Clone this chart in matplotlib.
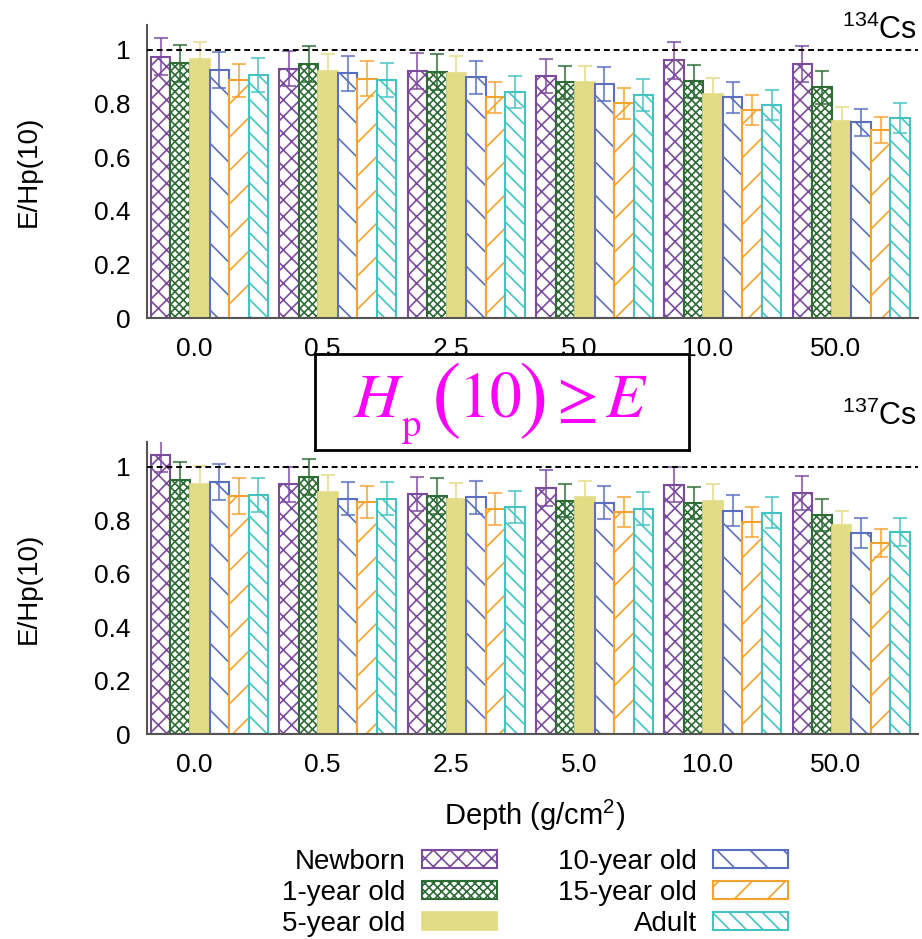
import numpy as np
import matplotlib
matplotlib.use('Agg')
import matplotlib.pyplot as plt

plt.rcParams['font.family'] = ['Liberation Sans', 'DejaVu Sans']
plt.rcParams['hatch.linewidth'] = 1.2

## DATA
depths = ['0.0', '0.5', '2.5', '5.0', '10.0', '50.0']
ages = ['Newborn', '1-year old', '5-year old', '10-year old', '15-year old', 'Adult']

# 134Cs, E/Hp(10) per depth
cs134_newborn = [0.975, 0.930, 0.922, 0.902, 0.961, 0.948]
cs134_1y = [0.950, 0.948, 0.918, 0.879, 0.883, 0.860]
cs134_5y = [0.965, 0.920, 0.913, 0.881, 0.837, 0.735]
cs134_10y = [0.925, 0.913, 0.898, 0.873, 0.823, 0.730]
cs134_15y = [0.887, 0.892, 0.823, 0.801, 0.776, 0.701]
cs134_adult = [0.907, 0.889, 0.844, 0.832, 0.795, 0.746]
cs134_err = [
    [0.070, 0.066, 0.067, 0.063, 0.069, 0.068],
    [0.070, 0.067, 0.067, 0.062, 0.062, 0.060],
    [0.065, 0.064, 0.065, 0.060, 0.059, 0.051],
    [0.066, 0.066, 0.062, 0.062, 0.058, 0.051],
    [0.062, 0.065, 0.058, 0.058, 0.055, 0.050],
    [0.063, 0.064, 0.060, 0.059, 0.057, 0.055],
]

# 137Cs
cs137_newborn = [1.046, 0.934, 0.898, 0.921, 0.933, 0.903]
cs137_1y = [0.949, 0.963, 0.891, 0.874, 0.865, 0.819]
cs137_5y = [0.936, 0.906, 0.879, 0.886, 0.874, 0.781]
cs137_10y = [0.943, 0.881, 0.886, 0.866, 0.836, 0.754]
cs137_15y = [0.891, 0.868, 0.842, 0.830, 0.795, 0.716]
cs137_adult = [0.895, 0.881, 0.848, 0.843, 0.829, 0.757]
cs137_err = [
    [0.065, 0.067, 0.063, 0.067, 0.065, 0.064],
    [0.068, 0.067, 0.066, 0.062, 0.060, 0.059],
    [0.067, 0.065, 0.062, 0.062, 0.062, 0.055],
    [0.068, 0.063, 0.062, 0.062, 0.059, 0.056],
    [0.066, 0.061, 0.060, 0.056, 0.056, 0.052],
    [0.063, 0.063, 0.060, 0.061, 0.057, 0.053],
]

colors = ['#7b4c9e', '#2e6b35', '#e3dc86', '#5b6fbf', '#f5a32e', '#45c3c3']
hatches = ['xx', 'xxxx', None, '\\', '/', '\\\\']

W, H = 922, 939
fig = plt.figure(figsize=(W / 100, H / 100), dpi=100)


def panel(rect, series, errs, nuclide, label_y):
    ax = fig.add_axes(rect)
    x = np.arange(len(depths))
    w = 0.152
    bars = []
    for j, vals in enumerate(series):
        xs = x + (j - 2.5) * w
        if hatches[j] is None:
            b = ax.bar(xs, vals, w, color=colors[j], edgecolor=colors[j],
                       linewidth=1.2, label=ages[j])
        else:
            b = ax.bar(xs, vals, w, facecolor='white', edgecolor=colors[j],
                       hatch=hatches[j], linewidth=1.5, label=ages[j])
        bars.append(b)
        ax.errorbar(xs, vals, yerr=errs[j], fmt='none', ecolor=colors[j],
                    elinewidth=1.5, capsize=5, capthick=1.5, alpha=0.75)
    ax.axhline(1.0, color='black', lw=1.4, ls=(0, (3, 2)), zorder=5)
    ax.set_xlim(-0.487, 5.52)
    ax.set_ylim(0, 1.093)
    ax.set_yticks([0, 0.2, 0.4, 0.6, 0.8, 1])
    ax.set_yticklabels(['0', '0.2', '0.4', '0.6', '0.8', '1'])
    ax.set_xticks(x - 0.12)
    ax.set_xticklabels(depths)
    ax.tick_params(length=0, labelsize=19)
    ax.tick_params(axis='x', pad=14)
    ax.tick_params(axis='y', pad=12)
    for s in ['top', 'right']:
        ax.spines[s].set_visible(False)
    for s in ['left', 'bottom']:
        ax.spines[s].set_color('#555555')
        ax.spines[s].set_linewidth(1.5)
    ax.set_ylabel('E/Hp(10)', fontsize=20)
    ax.yaxis.set_label_coords(-0.137, 0.5)
    fig.text(917 / W, 1 - label_y / H, r'$^{\mathregular{' + nuclide + r'}}$Cs',
             ha='right', va='center', fontsize=22)
    return ax, bars


ax1, bars = panel([147 / W, 1 - 318 / H, 771 / W, 293 / H],
                  [cs134_newborn, cs134_1y, cs134_5y, cs134_10y, cs134_15y, cs134_adult],
                  cs134_err, '134', 30)
ax2, _ = panel([147 / W, 1 - 734 / H, 771 / W, 292 / H],
               [cs137_newborn, cs137_1y, cs137_5y, cs137_10y, cs137_15y, cs137_adult],
               cs137_err, '137', 416)

fig.text(535 / W, 1 - 815 / H, r'Depth (g/cm$^{\mathregular{2}}$)',
         ha='center', va='center', fontsize=21)

# boxed annotation: Hp(10) >= E
bx = fig.add_axes([315 / W, 1 - 450 / H, 374 / W, 96 / H], zorder=10)
bx.set_xticks([])
bx.set_yticks([])
bx.set_facecolor('white')
for s in bx.spines.values():
    s.set_linewidth(2)
    s.set_color('black')
mag = '#ff00ff'
serif = 'STIXGeneral'
base = 0.347
bx.text(0.102, base, 'H', style='italic', family=serif, fontsize=46, color=mag,
        va='baseline', ha='left')
bx.text(0.232, 0.15, 'p', family=serif, fontsize=28, color=mag,
        va='baseline', ha='left')
bx.text(0.312, 0.50, '(', family=serif, fontsize=64, color=mag,
        va='center', ha='left')
bx.text(0.385, base, '10', family=serif, fontsize=46, color=mag,
        va='baseline', ha='left')
bx.text(0.545, 0.50, ')', family=serif, fontsize=64, color=mag,
        va='center', ha='left')
bx.text(0.645, base, '\u2265', family=serif, fontsize=44, color=mag,
        va='baseline', ha='left')
bx.text(0.775, base, 'E', style='italic', family=serif, fontsize=46, color=mag,
        va='baseline', ha='left')

fig.legend(bars, ages, ncol=2, markerfirst=False, frameon=False, loc='center',
           bbox_to_anchor=(535 / W, 1 - 893 / H), fontsize=20,
           handlelength=2.7, handleheight=0.6, labelspacing=0.18,
           columnspacing=2.2, handletextpad=0.6)

fig.savefig('out.png', dpi=100)
